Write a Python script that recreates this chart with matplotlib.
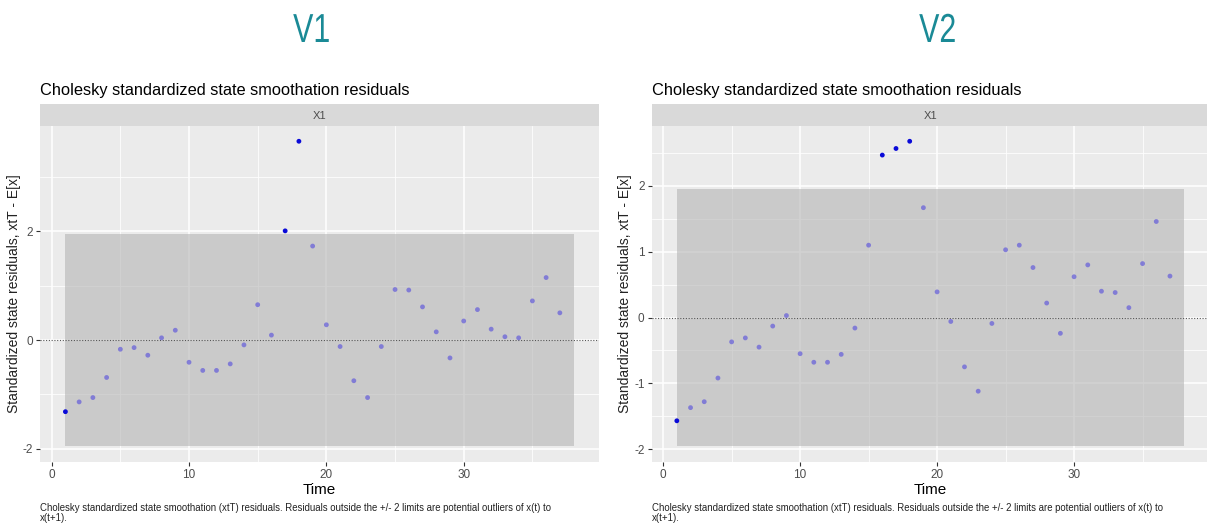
import numpy as np
import matplotlib
matplotlib.use("Agg")
import matplotlib.pyplot as plt
from matplotlib.patches import Rectangle, PathPatch
from matplotlib.textpath import TextPath
from matplotlib.font_manager import FontProperties
from matplotlib.transforms import Affine2D

plt.rcParams['font.family'] = ['Liberation Sans', 'DejaVu Sans']
plt.rcParams['axes.unicode_minus'] = False

# Data
time = list(range(1, 38))

v1_resid = [-1.32, -1.14, -1.06, -0.69, -0.17, -0.14, -0.28, 0.04, 0.18, -0.41,
            -0.56, -0.56, -0.44, -0.09, 0.65, 0.09, 2.01, 3.66, 1.73, 0.28,
            -0.12, -0.75, -1.06, -0.12, 0.93, 0.92, 0.61, 0.15, -0.33, 0.35,
            0.56, 0.20, 0.06, 0.04, 0.72, 1.15, 0.50]

v2_resid = [-1.57, -1.37, -1.28, -0.92, -0.37, -0.31, -0.45, -0.13, 0.03, -0.55,
            -0.68, -0.68, -0.56, -0.16, 1.10, 2.47, 2.57, 2.68, 1.67, 0.39,
            -0.06, -0.75, -1.12, -0.09, 1.03, 1.10, 0.76, 0.22, -0.24, 0.62,
            0.80, 0.40, 0.38, 0.15, 0.82, 1.46, 0.63]

# time points drawn as solid dark blue
v1_dark = [1, 17, 18]
v2_dark = [1, 16, 17, 18]

band_lo, band_hi = -1.96, 1.96
band_t0, band_t1 = 1, 38

v1_yticks = [-2, 0, 2]
v2_yticks = [-2, -1, 0, 1, 2]
xticks = [0, 10, 20, 30]

panel_title = "Cholesky standardized state smoothation residuals"
ylab = "Standardized state residuals, xtT - E[x]"
caption = ("Cholesky standardized state smoothation (xtT) residuals. Residuals outside the +/- 2 limits are potential outliers of x(t) to\n"
           "x(t+1).")

W, H = 1207, 523
fig = plt.figure(figsize=(W / 100, H / 100), dpi=100)


def fx(px):
    return px / W


def fy(py):
    return 1 - py / H


def expand(lo, hi):
    d = hi - lo
    return lo - 0.05 * d, hi + 0.05 * d


def header(txt, cx, bottom_px):
    # narrow teal heading, squeezed horizontally like the original
    tp = TextPath((0, 0), txt, size=40.5, prop=FontProperties(family='Liberation Sans'))
    ext = tp.get_extents()
    tr = (Affine2D().translate(-(ext.x0 + ext.x1) / 2, 0).scale(0.75, 1)
          .translate(cx, H - bottom_px))
    fig.add_artist(PathPatch(tp, transform=tr, facecolor='#1A8A96', edgecolor='none'))


def draw_panel(left, right, resid, dark, yticks):
    top, bottom = 126, 461.7
    ax = fig.add_axes([fx(left), fy(bottom), fx(right - left), (bottom - top) / H])
    ax.set_facecolor('#EBEBEB')
    for s in ax.spines.values():
        s.set_visible(False)

    ax.set_xlim(*expand(band_t0, band_t1))
    ax.set_ylim(*expand(min(band_lo, min(resid)), max(band_hi, max(resid))))

    ax.set_xticks(xticks)
    ax.set_yticks(yticks)
    ax.set_xticks([x + 5 for x in xticks], minor=True)
    step = yticks[1] - yticks[0]
    ymin, ymax = ax.get_ylim()
    minors = np.arange(yticks[0] - step / 2, ymax, step)
    ax.set_yticks([m for m in minors if ymin < m < ymax], minor=True)
    ax.grid(which='major', color='white', linewidth=1.1)
    ax.grid(which='minor', color='white', linewidth=0.55)
    ax.set_axisbelow(True)
    ax.tick_params(which='major', length=3, width=0.8, color='#333333',
                   labelsize=8.5, labelcolor='#4D4D4D', pad=2)
    ax.tick_params(which='minor', length=0)

    ax.add_patch(Rectangle((band_t0, band_lo), band_t1 - band_t0, band_hi - band_lo,
                           facecolor='#B4B4B4', alpha=0.6, edgecolor='none', zorder=2))
    ax.axhline(0, color='#555555', linestyle=(0, (1, 1.5)), linewidth=0.8, zorder=3)

    light_t = [t for t in time if t not in dark]
    light_y = [r for t, r in zip(time, resid) if t not in dark]
    dark_y = [resid[t - 1] for t in dark]
    ax.scatter(light_t, light_y, s=12, color='#3a2fe0', alpha=0.5,
               edgecolors='none', zorder=4)
    ax.scatter(dark, dark_y, s=12, color='#0a0ad8', edgecolors='none', zorder=5)

    ax.set_xlabel("Time", fontsize=11, labelpad=2)
    ax.set_ylabel(ylab, fontsize=10, labelpad=1.5, color='#222222')

    # facet strip
    sax = fig.add_axes([fx(left), fy(126), fx(right - left), (126 - 104.3) / H])
    sax.set_facecolor('#D9D9D9')
    sax.set_xticks([])
    sax.set_yticks([])
    for s in sax.spines.values():
        s.set_visible(False)
    sax.text(0.5, 0.45, "X1", ha='center', va='center', fontsize=8, color='#4D4D4D',
             transform=sax.transAxes)

    fig.text(fx(left), fy(90), panel_title, fontsize=11.8, va='center', ha='left')
    fig.text(fx(left), fy(503), caption, fontsize=6.9, va='top', ha='left',
             linespacing=1.05, color='#222222')
    return ax


draw_panel(40, 599, v1_resid, v1_dark, v1_yticks)
draw_panel(651.5, 1209, v2_resid, v2_dark, v2_yticks)
header("V1", 311, 42)
header("V2", 937, 42)

fig.savefig("out.png", dpi=100)
